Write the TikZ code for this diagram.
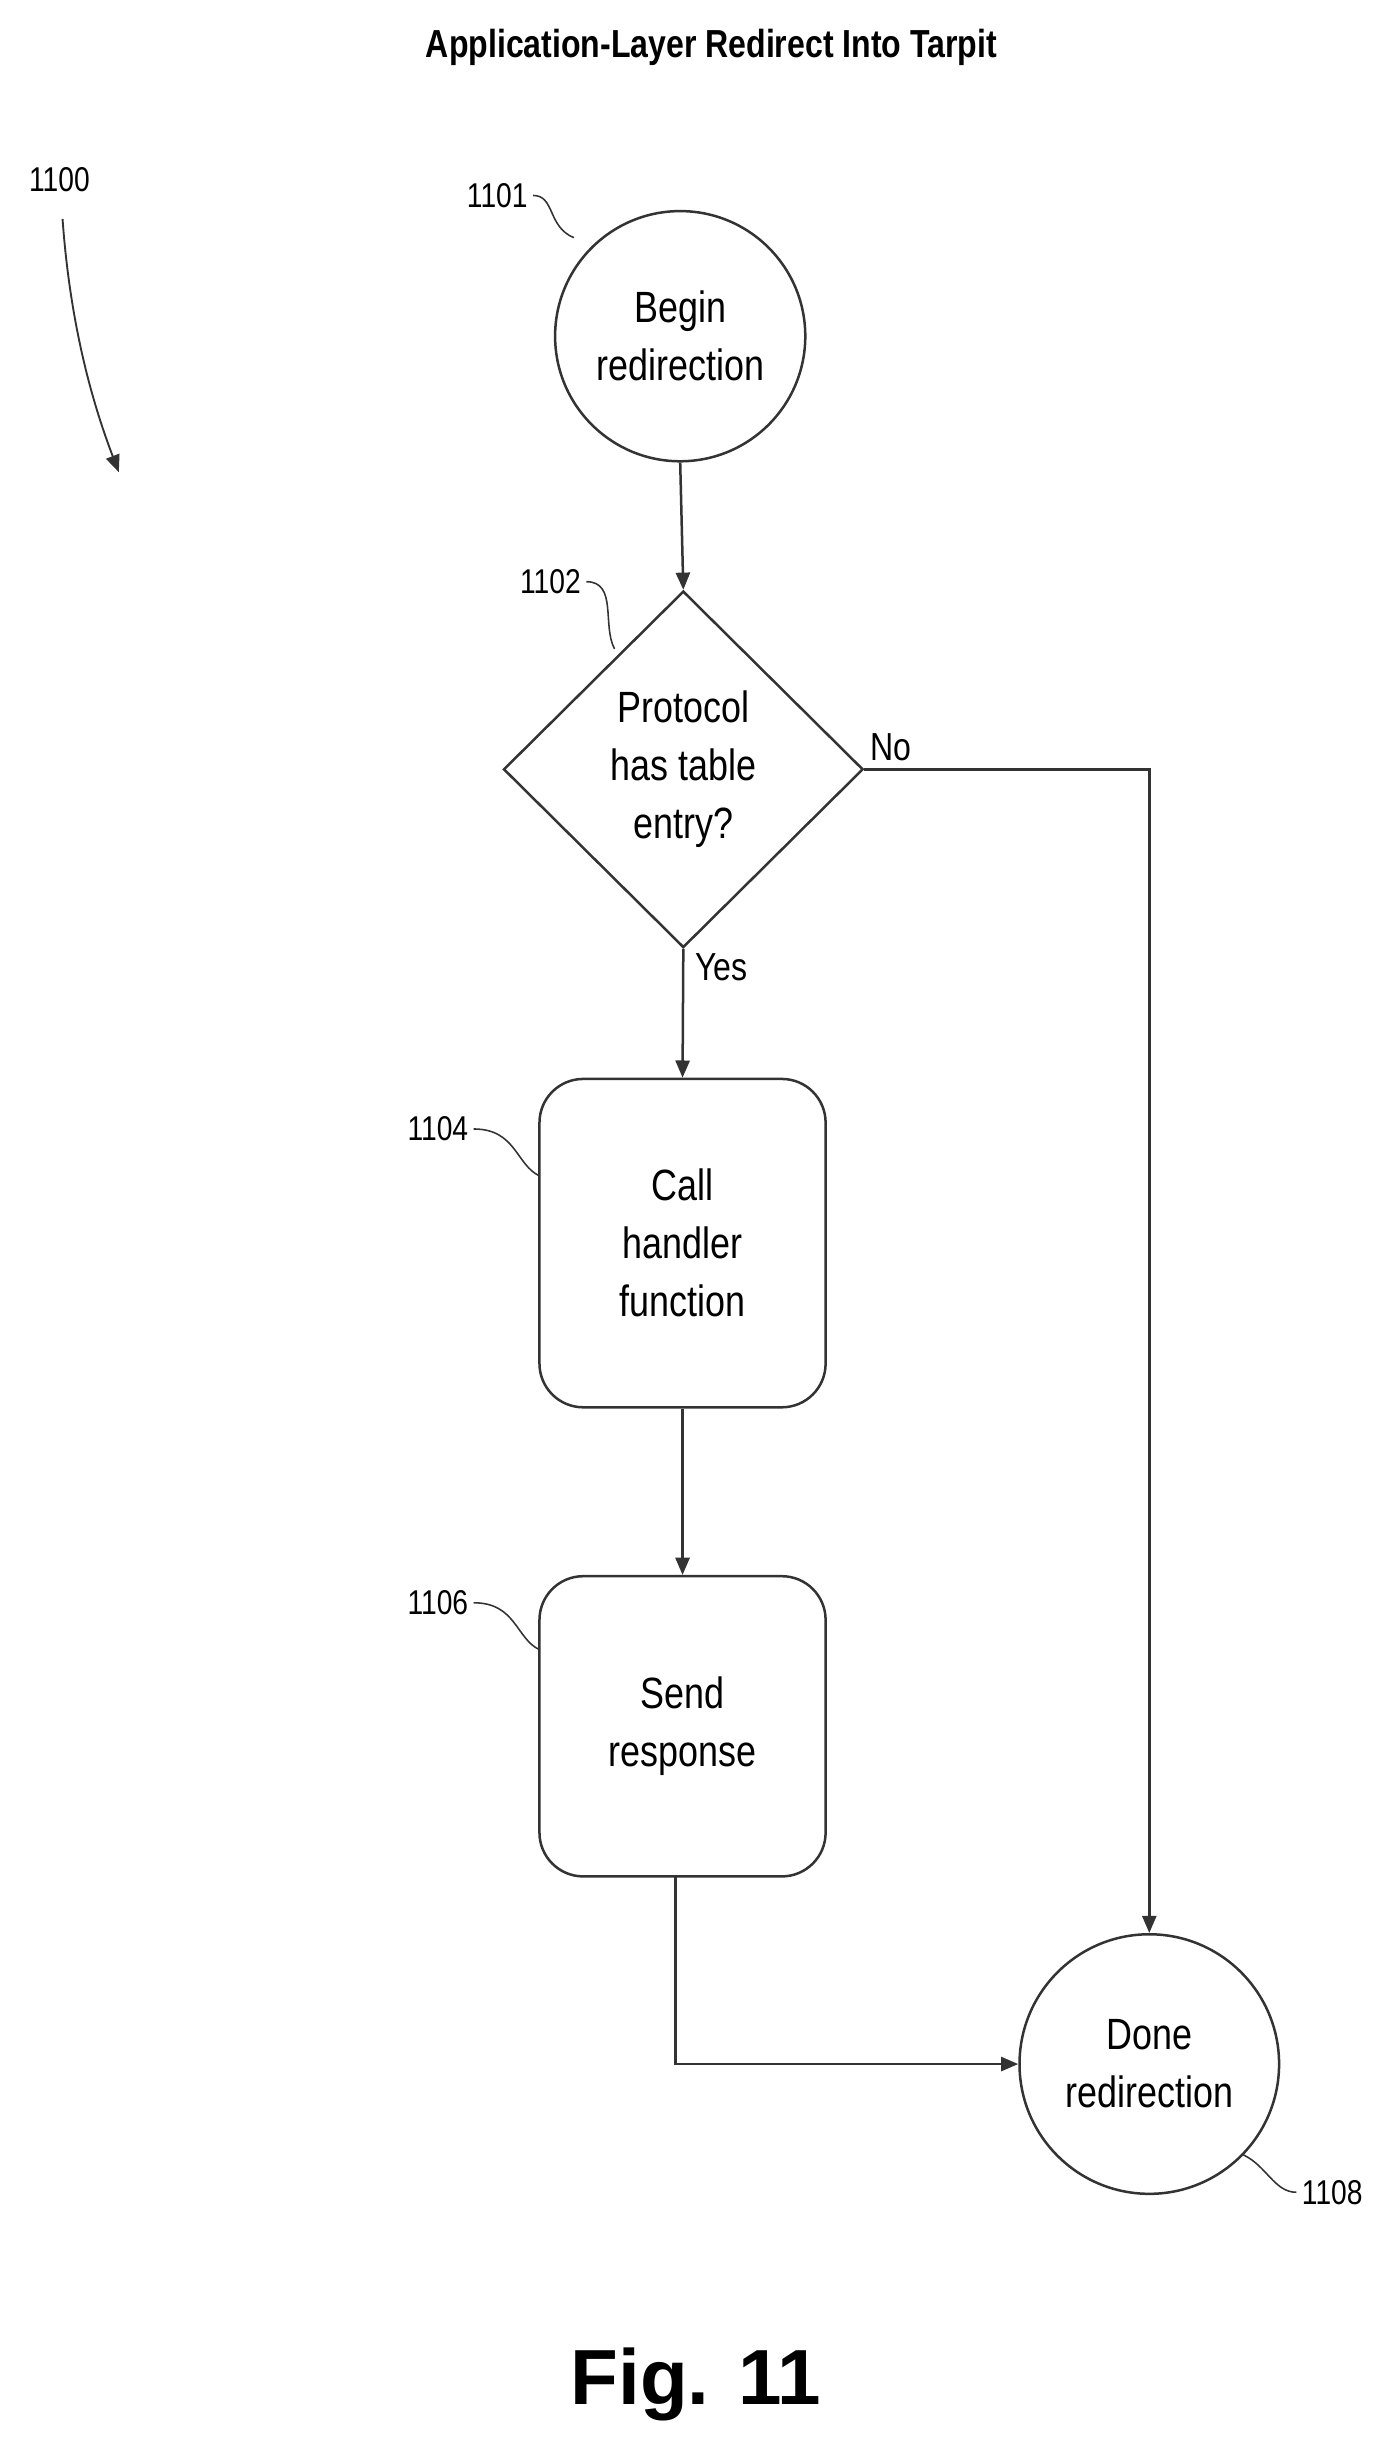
\documentclass[tikz,border=0pt]{standalone}
\usepackage{fontspec}
\setmainfont{Liberation Sans}[FakeStretch=0.82]
\newfontfamily\figfont{Liberation Sans}
\usetikzlibrary{shapes.geometric,arrows.meta}
\begin{document}
\begin{tikzpicture}[x=1pt,y=-1pt,
  line/.style={draw=black!80,line width=1.6pt},
  arr/.style={line,-{Triangle[length=11pt,width=9pt]}},
  lead/.style={draw=black!80,line width=1pt},
  txt/.style={font=\fontsize{28}{37}\selectfont,align=center},
  lbl/.style={font=\fontsize{22}{26}\selectfont}]
\useasboundingbox (0,0) rectangle (887,1563);
\node[font=\bfseries\fontsize{25}{30}\selectfont] (title) at (455,30) {Application-Layer Redirect Into Tarpit};
\node[lbl] (l1100) at (38,115) {1100};
\coordinate (a0) at (40,140); \coordinate (a1) at (76,302);
\draw[arr,line width=1.2pt] (a0) .. controls (45,210) and (60,260) .. (a1);

\node[line,circle,minimum size=160pt,txt] (c1) at (435,215) {Begin\\redirection};
\node[line,diamond,minimum width=230pt,minimum height=228pt,inner sep=0pt,txt] (d) at (437,492) {Protocol\\has table\\entry?};
\node[line,rounded corners=28pt,minimum width=183pt,minimum height=210pt,txt] (b1) at (436.5,795) {Call\\handler\\function};
\node[line,rounded corners=28pt,minimum width=183pt,minimum height=192pt,txt] (b2) at (436.5,1104) {Send\\response};
\node[line,circle,minimum size=166pt,txt] (c2) at (735,1320) {Done\\redirection};

\draw[arr] (c1.south) -- (d.north);
\draw[arr] (d.south) -- (b1.north);
\draw[arr] (b1.south) -- (b2.north);
\draw[arr] (d.east) -| (c2.north);
\coordinate (bb) at (432,1200);
\draw[arr] (bb) |- (c2.west);

\node[lbl,anchor=south west,font=\fontsize{25}{30}\selectfont] (no) at (553,490) {No};
\node[lbl,anchor=north west,font=\fontsize{25}{30}\selectfont] (yes) at (441,606) {Yes};

\node[lbl] (l1101) at (318,125) {1101};
\draw[lead] (l1101.east) .. controls (355,125) and (350,145) .. (367,152);
\node[lbl] (l1102) at (352,372) {1102};
\draw[lead] (l1102.east) .. controls (395,372) and (385,400) .. (393,415);
\node[lbl] (l1104) at (280,722) {1104};
\draw[lead] (l1104.east) .. controls (330,722) and (330,745) .. (345,752);
\node[lbl] (l1106) at (280,1025) {1106};
\draw[lead] (l1106.east) .. controls (330,1025) and (330,1048) .. (345,1055);
\node[lbl] (l1108) at (852,1402) {1108};
\draw[lead] (l1108.west) .. controls (815,1402) and (810,1385) .. (795,1378);

\node[font=\figfont\bfseries\fontsize{50}{60}\selectfont] (fig) at (445,1525) {Fig. 11};
\end{tikzpicture}
\end{document}
